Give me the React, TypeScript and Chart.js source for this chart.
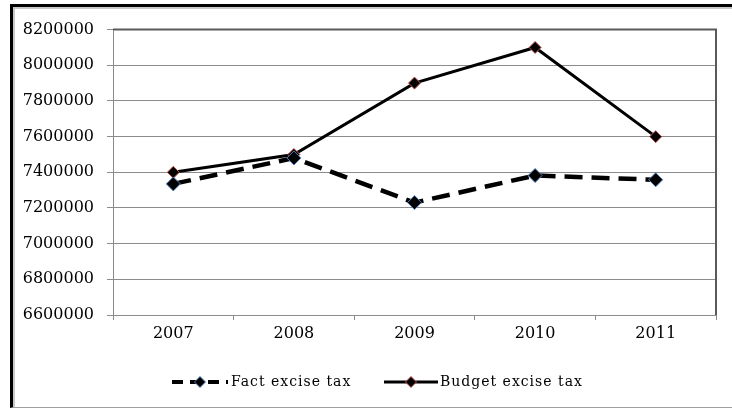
import React, { useEffect, useRef } from "react";
import { Chart, registerables } from "chart.js";

Chart.register(...registerables);

const years = ["2007", "2008", "2009", "2010", "2011"];
const factExcise = [7335000, 7480000, 7230000, 7382000, 7358000];
const budgetExcise = [7400000, 7500000, 7900000, 8100000, 7600000];
const seriesNames = ["Fact excise tax", "Budget excise tax"];
const yMin = 6600000;
const yMax = 8200000;
const yStep = 200000;

const FONT = "'DejaVu Serif', serif";

function drawDiamond(ctx: CanvasRenderingContext2D, x: number, y: number, r: number, stroke: string) {
  ctx.save();
  ctx.setLineDash([]);
  ctx.beginPath();
  ctx.moveTo(x, y - r);
  ctx.lineTo(x + r, y);
  ctx.lineTo(x, y + r);
  ctx.lineTo(x - r, y);
  ctx.closePath();
  ctx.fillStyle = "#000";
  ctx.fill();
  ctx.lineWidth = 1;
  ctx.strokeStyle = stroke;
  ctx.stroke();
  ctx.restore();
}

const framePlugin = {
  id: "frame",
  afterDatasetsDraw(chart: any) {
    const { ctx, chartArea } = chart;
    ctx.save();
    ctx.strokeStyle = "#5a5a5a";
    ctx.lineWidth = 2;
    ctx.beginPath();
    ctx.moveTo(chartArea.left, chartArea.top);
    ctx.lineTo(chartArea.right, chartArea.top);
    ctx.lineTo(chartArea.right, chartArea.bottom);
    ctx.stroke();
    ctx.restore();
  },
};

const legendPlugin = {
  id: "customLegend",
  afterDraw(chart: any) {
    const { ctx } = chart;
    const y = 375;
    ctx.save();
    // Fact sample
    ctx.strokeStyle = "#000";
    ctx.lineWidth = 4;
    ctx.setLineDash([11, 7]);
    ctx.beginPath();
    ctx.moveTo(159, y);
    ctx.lineTo(215, y);
    ctx.stroke();
    drawDiamond(ctx, 187, y, 5.5, "#4f81bd");
    // Budget sample
    ctx.setLineDash([]);
    ctx.lineWidth = 3;
    ctx.beginPath();
    ctx.moveTo(371, y);
    ctx.lineTo(425, y);
    ctx.stroke();
    drawDiamond(ctx, 398, y, 5.5, "#c0504d");
    ctx.fillStyle = "#000";
    ctx.font = "14px " + FONT;
    (ctx as any).letterSpacing = "1px";
    ctx.textBaseline = "middle";
    ctx.textAlign = "left";
    ctx.fillText(seriesNames[0], 218, y);
    ctx.fillText(seriesNames[1], 427, y);
    ctx.restore();
  },
};

export default function App() {
  const ref = useRef<HTMLCanvasElement>(null);
  useEffect(() => {
    if (!ref.current) return;
    const chart = new Chart(ref.current, {
      type: "line",
      data: {
        labels: years,
        datasets: [
          {
            label: seriesNames[0],
            data: factExcise,
            borderColor: "#000",
            borderWidth: 4.5,
            borderDash: [18, 9],
            pointStyle: "rectRot",
            pointRadius: 7,
            pointBackgroundColor: "#000",
            pointBorderColor: "#4f81bd",
            pointBorderWidth: 1,
            tension: 0,
          },
          {
            label: seriesNames[1],
            data: budgetExcise,
            borderColor: "#000",
            borderWidth: 3,
            pointStyle: "rectRot",
            pointRadius: 6,
            pointBackgroundColor: "#000",
            pointBorderColor: "#c0504d",
            pointBorderWidth: 1,
            tension: 0,
          },
        ],
      },
      options: {
        responsive: false,
        animation: false,
        layout: { padding: { left: 0, top: 15, right: 16, bottom: 0 } },
        plugins: { legend: { display: false }, tooltip: { enabled: false } },
        scales: {
          x: {
            offset: true,
            grid: {
              offset: true,
              drawOnChartArea: false,
              drawTicks: true,
              tickLength: 5,
              color: "#8c8c8c",
            },
            border: { color: "#8c8c8c", width: 1 },
            ticks: { color: "#000", font: { family: FONT, size: 16 }, padding: 4 },
            afterFit(scale: any) {
              scale.height = 92;
            },
          },
          y: {
            min: yMin,
            max: yMax,
            ticks: {
              stepSize: yStep,
              color: "#000",
              font: { family: FONT, size: 16 },
              padding: 13,
              callback: (v: any) => String(v),
            },
            grid: { color: "#8c8c8c", tickLength: 6, lineWidth: 1 },
            border: { color: "#8c8c8c", width: 1 },
            afterFit(scale: any) {
              scale.width = 100;
            },
          },
        },
      },
      plugins: [framePlugin, legendPlugin],
    });
    return () => chart.destroy();
  }, []);

  return (
    <div style={{ position: "fixed", left: 0, top: 0, width: 732, height: 409, background: "#fff" }}>
      <div
        style={{
          position: "absolute",
          left: 10,
          top: 4,
          width: 722,
          height: 400,
          borderLeft: "3px solid #000",
          borderTop: "3px solid #000",
          borderBottom: "1px solid #a0a0a0",
          boxShadow: "inset 2px 2px 0 #c8c8c8",
        }}
      >
        <canvas ref={ref} width={719} height={400} style={{ position: "absolute", left: 0, top: 0 }} />
      </div>
    </div>
  );
}
